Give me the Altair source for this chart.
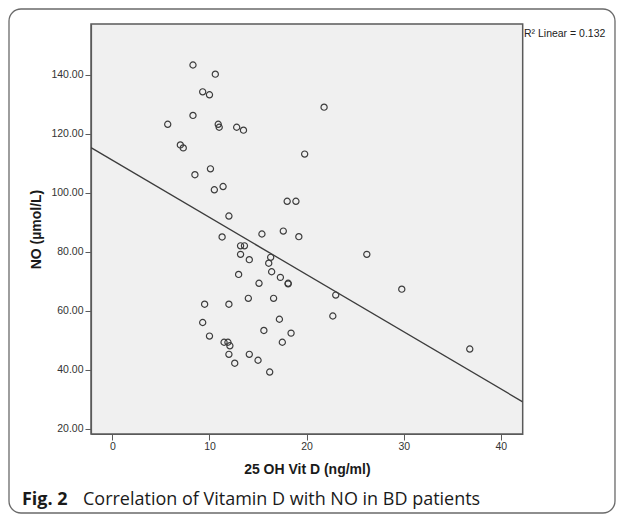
import altair as alt
import pandas as pd

vit_d = [8.3, 10.6, 9.3, 10.0, 8.3, 5.7, 10.9, 11.0, 12.8, 13.5,
         7.0, 7.3, 19.8, 10.1, 8.5, 10.5, 11.4, 18.0, 18.9, 12.0,
         21.8, 11.3, 15.4, 17.6, 19.2, 13.2, 13.6, 26.2, 13.2, 14.1,
         16.3, 16.1, 13.0, 16.4, 17.3, 15.1, 18.1, 18.1, 9.5, 12.0,
         14.0, 16.6, 9.3, 17.2, 10.0, 15.6, 18.4, 11.5, 11.9, 12.1,
         17.5, 12.0, 14.1, 15.0, 12.6, 16.2, 23.0, 22.7, 29.8, 36.8]
no_vals = [143.3, 140.2, 134.2, 133.2, 126.2, 123.2, 123.2, 122.2, 122.2, 121.2,
           116.2, 115.2, 113.1, 108.1, 106.1, 101.0, 102.1, 97.1, 97.1, 92.1,
           129.0, 85.0, 86.0, 87.0, 85.1, 82.0, 82.0, 79.1, 79.1, 77.3,
           78.1, 76.1, 72.3, 73.2, 71.3, 69.3, 69.3, 69.1, 62.2, 62.2,
           64.2, 64.2, 56.0, 57.1, 51.4, 53.3, 52.4, 49.3, 49.3, 48.1,
           49.3, 45.2, 45.2, 43.2, 42.2, 39.2, 65.3, 58.2, 67.3, 47.0]

x_ticks = [0, 10, 20, 30, 40]
y_ticks = [20, 40, 60, 80, 100, 120, 140]
x_domain = [-2.2, 42.25]
y_domain = [18.2, 157.2]

x_title = "25 OH Vit D (ng/ml)"
y_title = "NO (µmol/L)"
r2_label = "R² Linear = 0.132"
cap_bold = "Fig. 2"
cap_text = "Correlation of Vitamin D with NO in BD patients"

W, H = 431.7, 410

df = pd.DataFrame({"vitd": vit_d, "no": no_vals})

xs = alt.X("vitd:Q", scale=alt.Scale(domain=x_domain, nice=False, zero=False),
           axis=alt.Axis(values=x_ticks, format="d", title=x_title, grid=False,
                         titleY=40, titleBaseline="alphabetic"))
ys = alt.Y("no:Q", scale=alt.Scale(domain=y_domain, nice=False, zero=False),
           axis=alt.Axis(values=y_ticks, format=".2f", title=y_title, grid=False,
                         titleX=-54, titleY=H / 2, titleAngle=270,
                         titleAlign="center", titleBaseline="middle"))

one = pd.DataFrame({"a": [0]})

frame = alt.Chart(one).mark_rect(
    fillOpacity=0, stroke="#6a6a6a", strokeWidth=1.3, cornerRadius=12
).encode(x=alt.value(-82), x2=alt.value(524), y=alt.value(-15), y2=alt.value(489))

points = alt.Chart(df).mark_point(
    shape="circle", filled=False, size=38, strokeWidth=1.2, color="#3c3c3c", opacity=1
).encode(x=xs, y=ys)

line = alt.Chart(df).transform_regression(
    "vitd", "no", extent=x_domain
).mark_line(color="#3c3c3c", strokeWidth=1.3, clip=True).encode(
    x=alt.X("vitd:Q", scale=alt.Scale(domain=x_domain, nice=False, zero=False)),
    y=alt.Y("no:Q", scale=alt.Scale(domain=y_domain, nice=False, zero=False)),
)

r2 = alt.Chart(pd.DataFrame({"t": [r2_label]})).mark_text(
    align="left", baseline="alphabetic", font="Liberation Sans", fontSize=10.5, color="#222"
).encode(text="t:N", x=alt.value(433), y=alt.value(13))

cap1 = alt.Chart(pd.DataFrame({"t": [cap_bold]})).mark_text(
    align="left", baseline="alphabetic", font="Open Sans", fontSize=18,
    fontWeight="bold", color="#1a1a1a"
).encode(text="t:N", x=alt.value(-69), y=alt.value(481))

cap2 = alt.Chart(pd.DataFrame({"t": [cap_text]})).mark_text(
    align="left", baseline="alphabetic", font="Open Sans", fontSize=18, color="#1a1a1a"
).encode(text="t:N", x=alt.value(-8), y=alt.value(481))

chart = alt.layer(frame, points, line, r2, cap1, cap2).properties(
    width=W, height=H,
    autosize=alt.AutoSizeParams(type="none"),
    padding={"left": 83, "top": 16, "right": 93, "bottom": 80},
    background="white",
).configure_view(
    fill="#f0f0f0", stroke="#5a5a5a", strokeWidth=1.5
).configure_axis(
    domainColor="#5a5a5a", domainWidth=1.2, tickColor="#5a5a5a", tickSize=6,
    labelFont="Liberation Sans", labelFontSize=10.5, labelColor="#333",
    titleFont="Liberation Sans", titleFontSize=14, titleFontWeight="bold", titleColor="#1a1a1a",
    labelPadding=2
)

chart.save("out.html", embed_options={"renderer": "svg", "actions": False})
